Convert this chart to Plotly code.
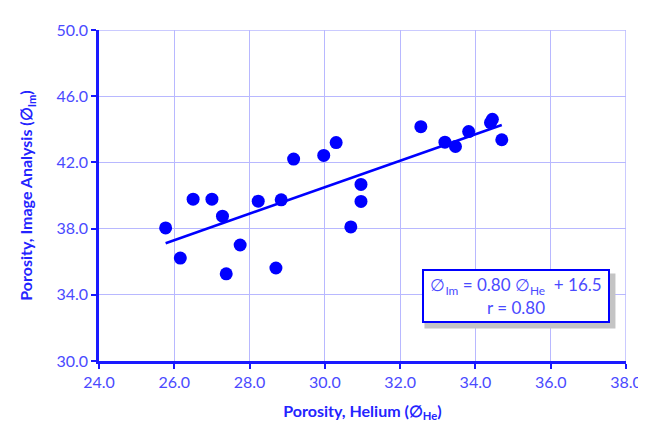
import plotly.graph_objects as go

# Data
porosity_he = [25.77, 26.16, 26.50, 27.00, 27.28, 27.38, 27.75, 28.23, 28.70, 28.84,
               29.17, 29.97, 30.30, 30.96, 30.96, 30.69, 32.55, 33.19, 33.47, 33.82,
               34.40, 34.45, 34.70]
porosity_im = [38.04, 36.22, 39.78, 39.78, 38.75, 35.27, 37.01, 39.66, 35.62, 39.74,
               42.20, 42.42, 43.20, 40.67, 39.64, 38.10, 44.16, 43.22, 42.96, 43.86,
               44.40, 44.60, 43.37]
slope = 0.80
intercept = 16.5
r_value = 0.80
x_ticks = [24, 26, 28, 30, 32, 34, 36, 38]
y_ticks = [30, 34, 38, 42, 46, 50]

fit_x = [min(porosity_he), max(porosity_he)]
fit_y = [slope * v + intercept for v in fit_x]

BLUE = "#0000ff"
AXIS_BLUE = "#1a1aff"
TEXT_BLUE = "#4a4aff"
TITLE_BLUE = "#2424ff"
GRID = "#b8b8ff"
FONT = "Lato, 'Open Sans', sans-serif"

fig = go.Figure()
fig.add_trace(go.Scatter(x=fit_x, y=fit_y, mode="lines",
                         line=dict(color=BLUE, width=2.5), showlegend=False,
                         hoverinfo="skip"))
fig.add_trace(go.Scatter(x=porosity_he, y=porosity_im, mode="markers",
                         marker=dict(color=BLUE, size=13, line=dict(width=0)),
                         showlegend=False))

fig.update_xaxes(range=[24, 38], tickvals=x_ticks,
                 ticktext=[f"{v:.1f}" for v in x_ticks],
                 showgrid=True, gridcolor=GRID, gridwidth=1,
                 showline=True, linecolor=AXIS_BLUE, linewidth=2.5,
                 ticks="outside", ticklen=5, tickwidth=2, tickcolor=AXIS_BLUE,
                 tickfont=dict(family=FONT, size=16, color=TEXT_BLUE),
                 zeroline=False,
                 title=dict(text="<b>Porosity, Helium (∅<sub>He</sub>)</b>",
                            font=dict(family=FONT, size=16, color=TITLE_BLUE),
                            standoff=16))
fig.update_yaxes(range=[30, 50], tickvals=y_ticks,
                 ticktext=[f"{v:.1f}" for v in y_ticks],
                 showgrid=True, gridcolor=GRID, gridwidth=1,
                 showline=True, linecolor=AXIS_BLUE, linewidth=2.5,
                 ticks="outside", ticklen=5, tickwidth=2, tickcolor=AXIS_BLUE,
                 tickfont=dict(family=FONT, size=16, color=TEXT_BLUE),
                 zeroline=False,
                 title=dict(text="<b>Porosity, Image Analysis (∅<sub>Im</sub>)</b>",
                            font=dict(family=FONT, size=16, color=TITLE_BLUE),
                            standoff=20))

# top and right frame in grid colour
fig.add_shape(type="line", xref="x", yref="y", x0=24, x1=38, y0=50, y1=50,
              line=dict(color=GRID, width=1.5))
fig.add_shape(type="line", xref="x", yref="y", x0=38, x1=38, y0=30, y1=50,
              line=dict(color=GRID, width=1.5))

box_x, box_y = 35.09, 33.9

# drop shadow of the equation box
fig.add_shape(type="rect", xref="x", yref="y", xsizemode="pixel", ysizemode="pixel",
              xanchor=box_x, yanchor=box_y, x0=-92, x1=99, y0=-32, y1=23,
              fillcolor="#c4c4c4", line=dict(width=0), layer="above")

eq_text = (f"∅<sub>Im</sub> = {slope:.2f} ∅<sub>He</sub>  + {intercept:.1f}"
           f"<br>r = {r_value:.2f}")
fig.add_annotation(x=box_x, y=box_y, xref="x", yref="y", text=eq_text,
                   showarrow=False,
                   width=182, height=48, bgcolor="white", bordercolor=BLUE,
                   borderwidth=2, font=dict(family=FONT, size=17, color=TEXT_BLUE))

fig.update_layout(width=646, height=427,
                  margin=dict(l=91, r=18, t=15, b=74),
                  plot_bgcolor="white", paper_bgcolor="white",
                  font=dict(family=FONT))

fig.write_html("out.html")
